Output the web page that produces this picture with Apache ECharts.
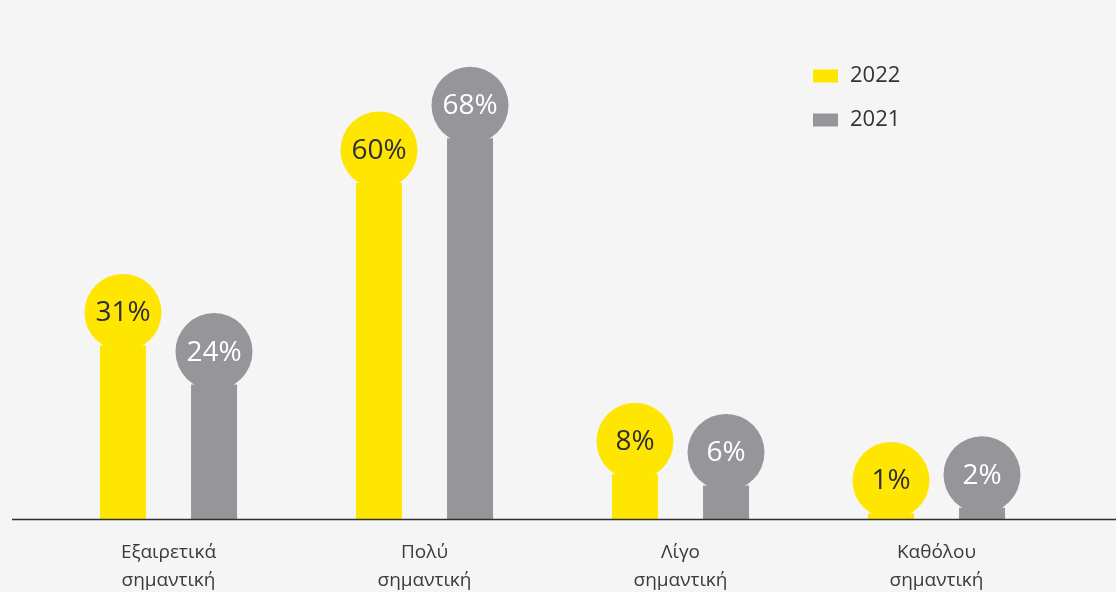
<!DOCTYPE html>
<html>
<head>
<meta charset="utf-8">
<script src="https://cdn.jsdelivr.net/npm/echarts@6/dist/echarts.min.js"></script>
<style>
  html, body { margin: 0; padding: 0; background: #f5f5f5; }
  #chart { width: 1116px; height: 592px; }
</style>
</head>
<body>
<div id="chart"></div>
<script>
// Importance ratings, share of respondents (%)
const categories = ['Εξαιρετικά\nσημαντική', 'Πολύ\nσημαντική', 'Λίγο\nσημαντική', 'Καθόλου\nσημαντική'];
const seriesNames = ['2022', '2021'];
const values2022 = [31, 60, 8, 1];
const values2021 = [24, 68, 6, 2];

const YELLOW = '#ffe600';
const GREY = '#96969a';
const FONT = '"Open Sans", "DejaVu Sans", sans-serif';

const chart = echarts.init(document.getElementById('chart'), null, { renderer: 'canvas' });

// Bars grow from the axis; a round head sits on top of each bar carrying the value
function headSeries(name, data, color, textColor, dx) {
  return {
    name: name,
    type: 'scatter',
    data: data,
    symbol: 'circle',
    symbolSize: 77,
    symbolOffset: [dx, -33],
    itemStyle: { color: color, opacity: 1 },
    label: {
      show: true,
      position: 'inside',
      offset: [0, 1],
      formatter: p => p.value + '%',
      color: textColor,
      fontFamily: FONT,
      fontSize: 28
    },
    emphasis: { disabled: true },
    z: 3
  };
}

chart.setOption({
  backgroundColor: '#f5f5f5',
  animation: false,
  grid: { left: 40.5, right: 51.5, top: 71, bottom: 73, outerBoundsMode: 'none', containLabel: false },
  legend: {
    orient: 'vertical',
    left: 813,
    top: 65,
    padding: 0,
    itemWidth: 25,
    itemHeight: 13,
    itemGap: 22,
    data: seriesNames,
    textStyle: { color: '#333333', fontFamily: FONT, fontSize: 22, padding: [0, 0, 0, 7] },
    icon: 'rect'
  },
  xAxis: {
    type: 'category',
    data: categories,
    axisLine: { show: false },
    axisTick: { show: false },
    axisLabel: {
      color: '#3a3a3a',
      fontFamily: FONT,
      fontSize: 19,
      lineHeight: 28,
      margin: 20,
      interval: 0
    }
  },
  yAxis: {
    type: 'value',
    min: 0,
    max: 80,
    show: false,
    splitLine: { show: false }
  },
  series: [
    {
      name: seriesNames[0],
      type: 'bar',
      data: values2022,
      barWidth: 46,
      barGap: '98%',
      itemStyle: { color: YELLOW },
      emphasis: { disabled: true },
      z: 2
    },
    {
      name: seriesNames[1],
      type: 'bar',
      data: values2021,
      barWidth: 46,
      itemStyle: { color: GREY },
      emphasis: { disabled: true },
      z: 2
    },
    headSeries(seriesNames[0], values2022, YELLOW, '#2e2e38', -45.5),
    headSeries(seriesNames[1], values2021, GREY, '#ffffff', 45.5)
  ],
  graphic: [
    {
      type: 'line',
      shape: { x1: 12, y1: 519.5, x2: 1116, y2: 519.5 },
      style: { stroke: '#2e2e2e', lineWidth: 1.3 },
      z: 10
    }
  ]
});
</script>
</body>
</html>
